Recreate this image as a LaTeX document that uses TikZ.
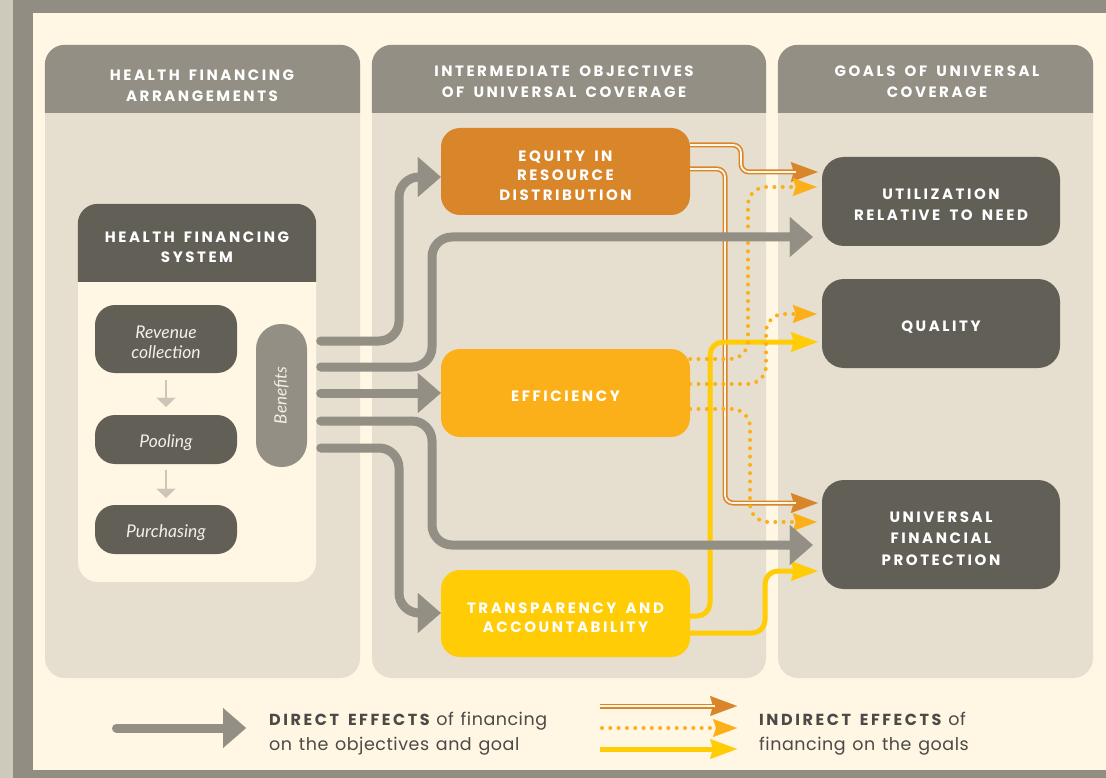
\documentclass[tikz,border=0pt]{standalone}
\usepackage{fontspec}
\usetikzlibrary{arrows.meta}
\newfontfamily\capsfont[LetterSpace=17,WordSpace=1.6]{Poppins}
\newfontfamily\legendcaps[LetterSpace=16,WordSpace=1.5]{Poppins}
\newfontfamily\bodyfont[LetterSpace=3,WordSpace=1.3]{Poppins}
\newfontfamily\stagefont{Lato}

\definecolor{frameDark}{HTML}{918D82}
\definecolor{frameLight}{HTML}{CFC9BC}
\definecolor{cream}{HTML}{FFF6E3}
\definecolor{panel}{HTML}{E6DFCF}
\definecolor{headGray}{HTML}{938F84}
\definecolor{boxDark}{HTML}{625F57}
\definecolor{arrowGray}{HTML}{938F84}
\definecolor{eqOrange}{HTML}{D9852A}
\definecolor{effAmber}{HTML}{FBB01A}
\definecolor{traYellow}{HTML}{FFCC05}
\definecolor{inkGray}{HTML}{4B4A47}
\definecolor{stepGray}{HTML}{CDC6B8}
\definecolor{labelWhite}{HTML}{F4EFE7}

\begin{document}
\begin{tikzpicture}[x=1pt, y=-1pt,
  panelbox/.style={fill=panel, rounded corners=20pt, minimum height=633pt, inner sep=0pt},
  heading/.style={font=\capsfont\bfseries\fontsize{15}{20.5}\selectfont, text=white, align=center, inner sep=0pt},
  goaltext/.style={heading, font=\capsfont\bfseries\fontsize{15}{21.5}\selectfont},
  objtext/.style={heading, font=\capsfont\bfseries\fontsize{15}{19.5}\selectfont},
  goalbox/.style={fill=boxDark, rounded corners=22pt, minimum width=238pt, minimum height=89pt, inner sep=0pt},
  objbox/.style={rounded corners=19pt, minimum width=249pt, minimum height=87pt, inner sep=0pt},
  stagebox/.style={fill=boxDark, rounded corners=20pt, minimum width=142pt, inner sep=0pt},
  stagetext/.style={text=labelWhite, align=center, inner sep=0pt,
    font=\stagefont\itshape\fontsize{17.5}{19.5}\selectfont},
  stagelink/.style={draw=stepGray, line width=2.5pt, shorten <=7pt, shorten >=8pt,
    -{Triangle[width=19pt,length=9pt,line width=0.01pt]}},
  direct/.style={draw=arrowGray, line width=9pt, line cap=round, rounded corners=20pt,
    -{Triangle[width=40pt,length=23pt,line width=0.01pt]}},
  indirectA/.style={draw=eqOrange, line width=5pt, rounded corners=8pt, shorten >=4pt,
    -{Stealth[width=20pt,length=27pt,inset=3pt,line width=0.01pt]},
    postaction={draw=cream, line width=1.8pt, -, shorten >=26pt}},
  indirectB/.style={draw=effAmber, line width=4pt, line cap=round, dash pattern=on 0pt off 8.3pt,
    rounded corners=18pt, -{Stealth[width=18pt,length=24pt,inset=3pt,line width=0.01pt]}},
  indirectC/.style={draw=traYellow, line width=5pt, rounded corners=13pt,
    -{Stealth[width=20pt,length=27pt,inset=3pt,line width=0.01pt]}},
  legendtext/.style={anchor=base west, inner sep=0pt, text=inkGray, font=\bodyfont\fontsize{17.5}{24}\selectfont}
]
\useasboundingbox (0,0) rectangle (1106,778);

% outer frame
\fill[frameLight] (0,0) rectangle (1106,778);
\fill[frameDark] (13,0) rectangle (1106,778);
\fill[cream] (33,13) rectangle (1106,770);

% three column panels with their header bands
\node[panelbox, minimum width=315pt] (colA) at (202.5,361.5) {};
\node[panelbox, minimum width=394pt] (colB) at (569,361.5) {};
\node[panelbox, minimum width=315pt] (colC) at (935.5,361.5) {};
\foreach \c in {colA,colB,colC}{
  \begin{scope}
    \clip (\c.north west) rectangle (\c.east|-0,113);
    \fill[headGray, rounded corners=20pt] (\c.north west) rectangle (\c.south east);
  \end{scope}
}
\node[heading] (hdA) at (202,85.5) {HEALTH FINANCING\\ARRANGEMENTS};
\node[heading] (hdB) at (564,81.5) {INTERMEDIATE OBJECTIVES\\OF UNIVERSAL COVERAGE};
\node[heading] (hdC) at (937,81.5) {GOALS OF UNIVERSAL\\COVERAGE};

% health financing system
\node[fill=cream, rounded corners=20pt, minimum width=238pt, minimum height=378pt, inner sep=0pt] (hfs) at (197,393) {};
\begin{scope}
  \clip (hfs.north west) rectangle (hfs.east|-0,281);
  \fill[boxDark, rounded corners=20pt] (hfs.north west) rectangle (hfs.south east);
\end{scope}
\node[heading] (hfsT) at (197,247) {HEALTH FINANCING\\SYSTEM};

\node[stagebox, minimum height=68pt] (rev) at (166,339) {};
\node[stagebox, minimum height=49pt] (pool) at (166,439.5) {};
\node[stagebox, minimum height=49pt] (purch) at (166,529.5) {};
\node[stagetext] (revT) at (166,342.5) {Revenue\\collection};
\node[stagetext] (poolT) at (166,442.5) {Pooling};
\node[stagetext] (purchT) at (166,532.5) {Purchasing};
\draw[stagelink] (rev) -- (pool);
\draw[stagelink, shorten <=6pt, shorten >=7pt] (pool) -- (purch);

\node[fill=headGray, rounded corners=25pt, rotate=90, minimum width=143pt, minimum height=51pt,
  inner sep=0pt, text=labelWhite, font=\stagefont\itshape\fontsize{17}{19}\selectfont] (ben) at (281.5,395.5) {Benefits};

% intermediate objectives
\node[objbox, fill=eqOrange] (eq) at (565.5,171.5) {};
\node[objbox, fill=effAmber, minimum height=88pt] (eff) at (565.5,393) {};
\node[objbox, fill=traYellow] (tra) at (565.5,613.5) {};
\node[objtext] (eqT) at (565.5,175.5) {EQUITY IN\\RESOURCE\\DISTRIBUTION};
\node[objtext] (effT) at (565.5,396) {EFFICIENCY};
\node[objtext] (traT) at (565.5,617.5) {TRANSPARENCY AND\\ACCOUNTABILITY};

% goals
\node[goalbox] (util) at (941,201.5) {};
\node[goalbox] (qual) at (941,323.5) {};
\node[goalbox, minimum height=109pt] (ufp) at (941,534.5) {};
\node[goaltext] (utilT) at (941,204.5) {UTILIZATION\\RELATIVE TO NEED};
\node[goaltext] (qualT) at (941,327) {QUALITY};
\node[goaltext] (ufpT) at (941,538.5) {UNIVERSAL\\FINANCIAL\\PROTECTION};

% indirect effects: equity
\draw[indirectA] (eq.east|-0,145) -| (741,172) -- (util.west|-0,172);
\draw[indirectA] (eq.east|-0,169) -| (725,503) -- (ufp.west|-0,503);
% indirect effects: transparency
\draw[indirectC, shorten >=4pt] (tra.east|-0,616) -| (710,342) -- (qual.west|-0,342);
\draw[indirectC, shorten >=4pt] (tra.east|-0,633) -| (765,571) -- (ufp.west|-0,571);
% indirect effects: efficiency
\draw[indirectB, shorten >=5pt] (eff.east|-0,359) -| (748,187) -- (util.west|-0,187);
\draw[indirectB, shorten >=5pt] (eff.east|-0,384) -| (766,314) -- (qual.west|-0,314);
\draw[indirectB, shorten >=5pt] (eff.east|-0,409) -| (750,522) -- (ufp.west|-0,522);

% direct effects of the financing arrangements
\draw[direct, shorten <=4.5pt] (hfs.east|-0,341) -| (399,177) -- (eq.west|-0,177);
\draw[direct, shorten <=4.5pt, shorten >=9pt] (hfs.east|-0,367) -| (432,237) -- (util.west|-0,237);
\draw[direct, shorten <=4.5pt] (hfs.east|-0,393) -- (eff.west);
\draw[direct, shorten <=4.5pt, shorten >=9pt] (hfs.east|-0,421) -| (432,545) -- (ufp.west|-0,545);
\draw[direct, shorten <=4.5pt] (hfs.east|-0,448) -| (399,613) -- (tra.west|-0,613);

% legend
\coordinate (ldA) at (116.5,728);
\coordinate (ldB) at (246,728);
\draw[direct] (ldA) -- (ldB);
\node[legendtext] (legDa) at (269,725) {{\legendcaps\bfseries\fontsize{16}{24}\selectfont DIRECT EFFECTS} of financing};
\node[legendtext] (legDb) at (269,750) {on the objectives and goal};

\coordinate (loA) at (600,706);
\coordinate (loB) at (741,706);
\coordinate (lpA) at (602,728);
\coordinate (lpB) at (737,728);
\coordinate (lyA) at (600,749);
\coordinate (lyB) at (737,749);
\draw[indirectA] (loA) -- (loB);
\draw[indirectB] (lpA) -- (lpB);
\draw[indirectC] (lyA) -- (lyB);
\node[legendtext] (legIa) at (759,725) {{\legendcaps\bfseries\fontsize{16}{24}\selectfont INDIRECT EFFECTS} of};
\node[legendtext] (legIb) at (759,750) {financing on the goals};
\end{tikzpicture}
\end{document}
